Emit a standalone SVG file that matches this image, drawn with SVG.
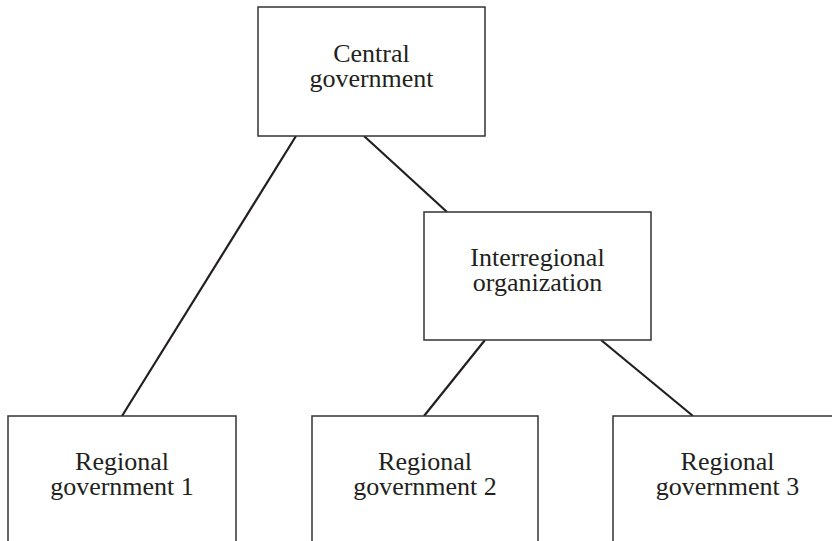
<svg xmlns="http://www.w3.org/2000/svg" width="832" height="541" viewBox="0 0 832 541">
<style>
.box{fill:#fff;stroke:#333;stroke-width:1.5}
.lbl{font-family:"Liberation Serif","Times New Roman",serif;font-size:26px;fill:#231f20;text-anchor:middle}
.conn{stroke:#231f20;stroke-width:2.2;fill:none}
</style>
<rect width="832" height="541" fill="#fff"/>
<g id="connectors">
<line class="conn" x1="296" y1="136" x2="122" y2="416"/>
<line class="conn" x1="364" y1="136" x2="447" y2="212"/>
<line class="conn" x1="485" y1="340" x2="424" y2="416"/>
<line class="conn" x1="601" y1="340" x2="693" y2="416"/>
</g>
<g id="central">
<rect class="box" x="258" y="7" width="227" height="129"/>
<text class="lbl" x="371.5" y="62">Central</text>
<text class="lbl" x="371.5" y="87">government</text>
</g>
<g id="interregional">
<rect class="box" x="424" y="212" width="227" height="128"/>
<text class="lbl" x="537.5" y="266">Interregional</text>
<text class="lbl" x="537.5" y="291">organization</text>
</g>
<g id="regional1">
<rect class="box" x="8" y="416" width="228" height="140"/>
<text class="lbl" x="122" y="470">Regional</text>
<text class="lbl" x="122" y="495">government 1</text>
</g>
<g id="regional2">
<rect class="box" x="312" y="416" width="226" height="140"/>
<text class="lbl" x="425" y="470">Regional</text>
<text class="lbl" x="425" y="495">government 2</text>
</g>
<g id="regional3">
<rect class="box" x="613" y="416" width="228" height="140"/>
<text class="lbl" x="727.5" y="470">Regional</text>
<text class="lbl" x="727.5" y="495">government 3</text>
</g>
</svg>
